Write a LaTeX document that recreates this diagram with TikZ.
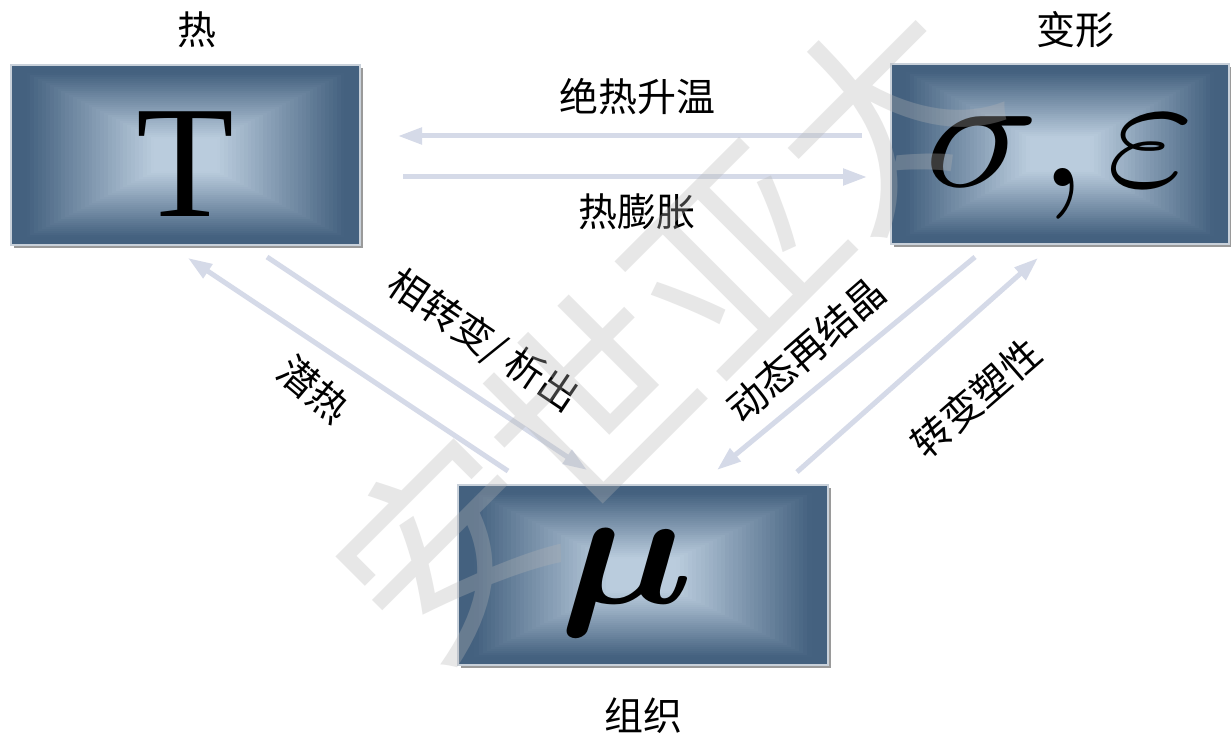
\documentclass[tikz,border=0pt]{standalone}
\usepackage{fontspec}
\usepackage{bm}
\usetikzlibrary{arrows.meta}
\newfontfamily\cjk{Noto Sans CJK SC}
\newfontfamily\tnr{Liberation Serif}
\definecolor{dark}{HTML}{44617F}
\definecolor{light}{HTML}{BACCDD}
\definecolor{arrc}{HTML}{D5DAE8}
\definecolor{shadowc}{HTML}{9A9A9A}
\definecolor{bordc}{HTML}{C9D1DA}
\newcommand{\gradbox}[4]{%
  \fill[shadowc] ({#1-#3+3},{#2-#4+3}) rectangle ({#1+#3+3},{#2+#4+3});
  \foreach \i in {0,...,44}{
    \pgfmathsetmacro\tt{\i/45}
    \pgfmathtruncatemacro\pp{min(100,max(0,(\tt-0.08)/0.72*100))}
    \fill[light!\pp!dark] ({#1-#3*(1-\tt)},{#2-#4*(1-\tt)}) rectangle ({#1+#3*(1-\tt)},{#2+#4*(1-\tt)});
  }
  \draw[bordc,line width=1.2] ({#1-#3},{#2-#4}) rectangle ({#1+#3},{#2+#4});
}
\tikzset{
  lab/.style={font=\cjk\fontsize{39}{42}\selectfont, inner sep=0pt},
  arr/.style={line width=5, color=arrc, -{Triangle[length=24pt,width=16pt]}},
  boxnode/.style={draw=none, inner sep=0pt},
  glyph/.style={anchor=base, inner sep=0pt},
}
\begin{document}
\begin{tikzpicture}[x=1pt,y=-1pt]
\useasboundingbox (0,0) rectangle (1231,735);
\fill[white] (0,0) rectangle (1231,735);
% boxes
\gradbox{185.5}{155}{174.5}{90}
\gradbox{1060}{154}{169}{90}
\gradbox{643}{575}{185}{90}
\node[boxnode, minimum width=349, minimum height=180] (T) at (185.5,155) {};
\node[boxnode, minimum width=338, minimum height=180] (S) at (1060,154) {};
\node[boxnode, minimum width=370, minimum height=180] (M) at (643,575) {};
% box contents
\node[glyph, font=\tnr\fontsize{160}{160}\selectfont] (Tl) at (185,217) {T};
\node[glyph] (sig) at (982,187) {\scalebox{19}[16.2]{$\sigma$}};
\node[glyph] (com) at (1063,187) {\scalebox{17}{$,$}};
\node[glyph] (eps) at (1151,187) {\scalebox{19}[16.5]{$\varepsilon$}};
\node[glyph] (Ml) at (627,603) {\scalebox{19}[16.7]{$\bm{\mu}$}};
% titles
\node[lab] (hot) at (197,30) {热};
\node[lab] (def) at (1075,30) {变形};
\node[lab] (mic) at (643,716) {组织};
% arrow endpoints
\coordinate (a1s) at (862,136);
\coordinate (a1e) at (398,136);
\coordinate (a2s) at (403,177);
\coordinate (a2e) at (867,177);
\coordinate (b1s) at (508,471);
\coordinate (b1e) at (188,258);
\coordinate (b2s) at (267,257);
\coordinate (b2e) at (587,470);
\coordinate (c1s) at (975,257);
\coordinate (c1e) at (717,470);
\coordinate (c2s) at (797,472);
\coordinate (c2e) at (1038,258);
\draw[arr] (a1s) -- (a1e);
\draw[arr] (a2s) -- (a2e);
\draw[arr] (b1s) -- (b1e);
\draw[arr] (b2s) -- (b2e);
\draw[arr] (c1s) -- (c1e);
\draw[arr] (c2s) -- (c2e);
% arrow labels
\node[lab] (l1) at (637,97) {绝热升温};
\node[lab] (l2) at (637,212) {热膨胀};
\node[lab, rotate=-34] (l3) at (483,341) {相转变/ 析出};
\node[lab, rotate=-40] (l4) at (314,389) {潜热};
\node[lab, rotate=41] (l5) at (806,350) {动态再结晶};
\node[lab, rotate=41] (l6) at (976,398) {转变塑性};
% watermark
\node[font=\cjk\fontsize{205}{205}\selectfont, text=black!29, opacity=0.32, rotate=45, inner sep=0pt] (wm) at (662,330) {安世亚太};
\end{tikzpicture}
\end{document}
